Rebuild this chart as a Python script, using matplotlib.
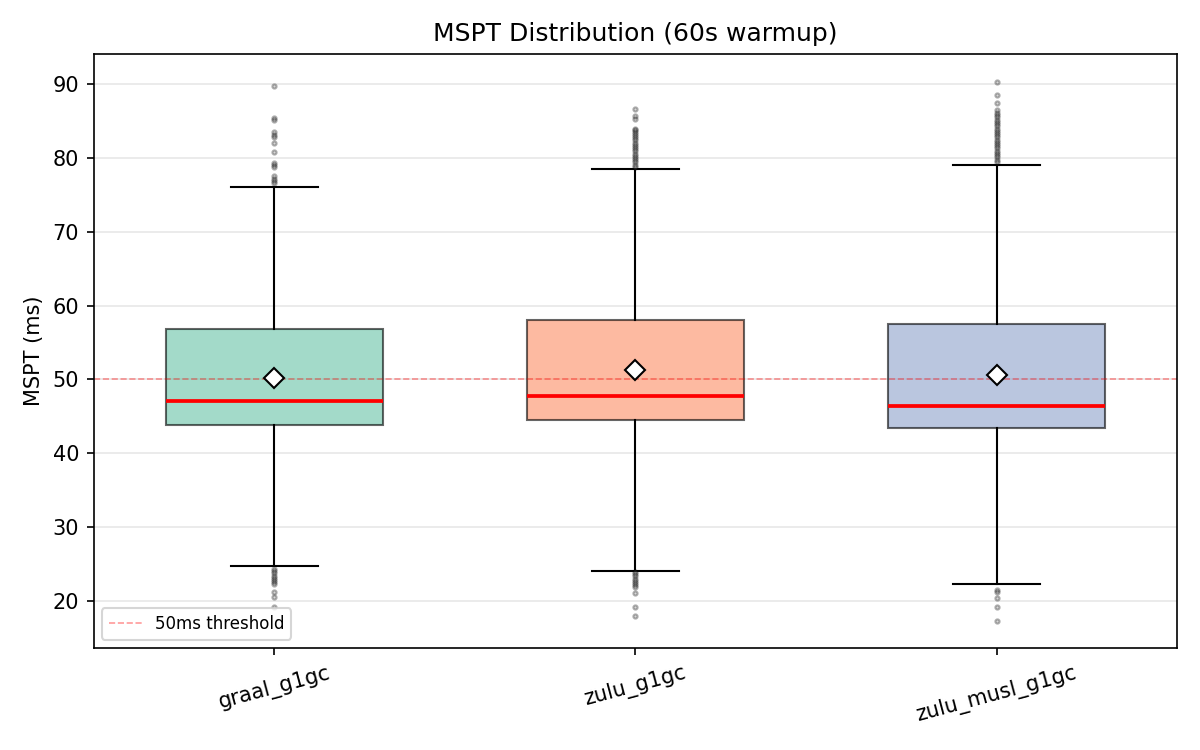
import numpy as np
import matplotlib
matplotlib.use("Agg")
import matplotlib.pyplot as plt

labels = ["graal_g1gc", "zulu_g1gc", "zulu_musl_g1gc"]
colors = ["#66c2a5", "#fc8d62", "#8da0cb"]

# box stats (ms)
q1 = [43.8, 44.5, 43.4]
med = [47.1, 47.7, 46.4]
q3 = [56.8, 58.1, 57.5]
whislo = [24.7, 24.1, 22.3]
whishi = [76.1, 78.5, 79.0]
means = [50.2, 51.3, 50.6]

fliers_graal = [89.7, 85.4, 85.2, 83.5, 83.1, 82.8, 82.1, 80.8, 79.3, 79.0, 78.8,
                77.5, 77.2, 76.9, 76.6,
                24.3, 24.0, 23.7, 23.4, 23.1, 22.8, 22.5, 22.3, 21.2, 20.5, 19.2]
fliers_zulu = [86.6, 85.7, 85.3, 84.0, 83.8, 83.5, 83.2, 83.0, 82.7, 82.4, 82.1,
               81.8, 81.5, 81.2, 80.9, 80.6, 80.3, 80.0, 79.7, 79.4, 79.1, 78.8,
               23.9, 23.6, 23.3, 23.0, 22.7, 22.4, 22.1, 21.9, 21.0, 19.1, 18.0]
fliers_musl = [90.3, 88.5, 87.5, 86.5, 86.1, 85.8, 85.5, 85.2, 84.9, 84.6, 84.3,
               84.0, 83.7, 83.4, 83.1, 82.8, 82.5, 82.2, 81.9, 81.6, 81.3, 81.0,
               80.7, 80.4, 80.1, 79.8, 79.5,
               21.5, 21.2, 20.4, 19.2, 17.2]
fliers = [fliers_graal, fliers_zulu, fliers_musl]

threshold = 50

stats = []
for i in range(len(labels)):
    stats.append(dict(label=labels[i], q1=q1[i], med=med[i], q3=q3[i],
                      whislo=whislo[i], whishi=whishi[i], mean=means[i],
                      fliers=fliers[i]))

fig, ax = plt.subplots(figsize=(8, 5), dpi=150)
fig.subplots_adjust(left=0.078, right=0.981, top=0.928, bottom=0.136)

bp = ax.bxp(stats, widths=0.6, patch_artist=True, showmeans=True,
            capwidths=0.24,
            medianprops=dict(color="red", linewidth=1.8),
            meanprops=dict(marker="D", markerfacecolor="white",
                           markeredgecolor="black", markersize=6.5),
            flierprops=dict(marker="o", markersize=2, markerfacecolor="gray",
                            markeredgecolor="black", alpha=0.3),
            whiskerprops=dict(color="black", linewidth=1.0),
            capprops=dict(color="black", linewidth=1.0))

for patch, c in zip(bp["boxes"], colors):
    patch.set_facecolor(c)
    patch.set_alpha(0.6)
    patch.set_edgecolor("black")
    patch.set_linewidth(1.0)

ax.axhline(threshold, color="red", linestyle="--", alpha=0.4, linewidth=0.8,
           label="50ms threshold")

ax.set_ylim(13.6, 94.1)
ax.set_xlim(0.5, 3.5)
ax.set_ylabel("MSPT (ms)")
ax.set_title("MSPT Distribution (60s warmup)", fontsize=12)
ax.grid(axis="y", alpha=0.3)
ax.set_axisbelow(True)
plt.setp(ax.get_xticklabels(), rotation=15)
ax.legend(loc="lower left", fontsize=8)

fig.savefig("out.png")
